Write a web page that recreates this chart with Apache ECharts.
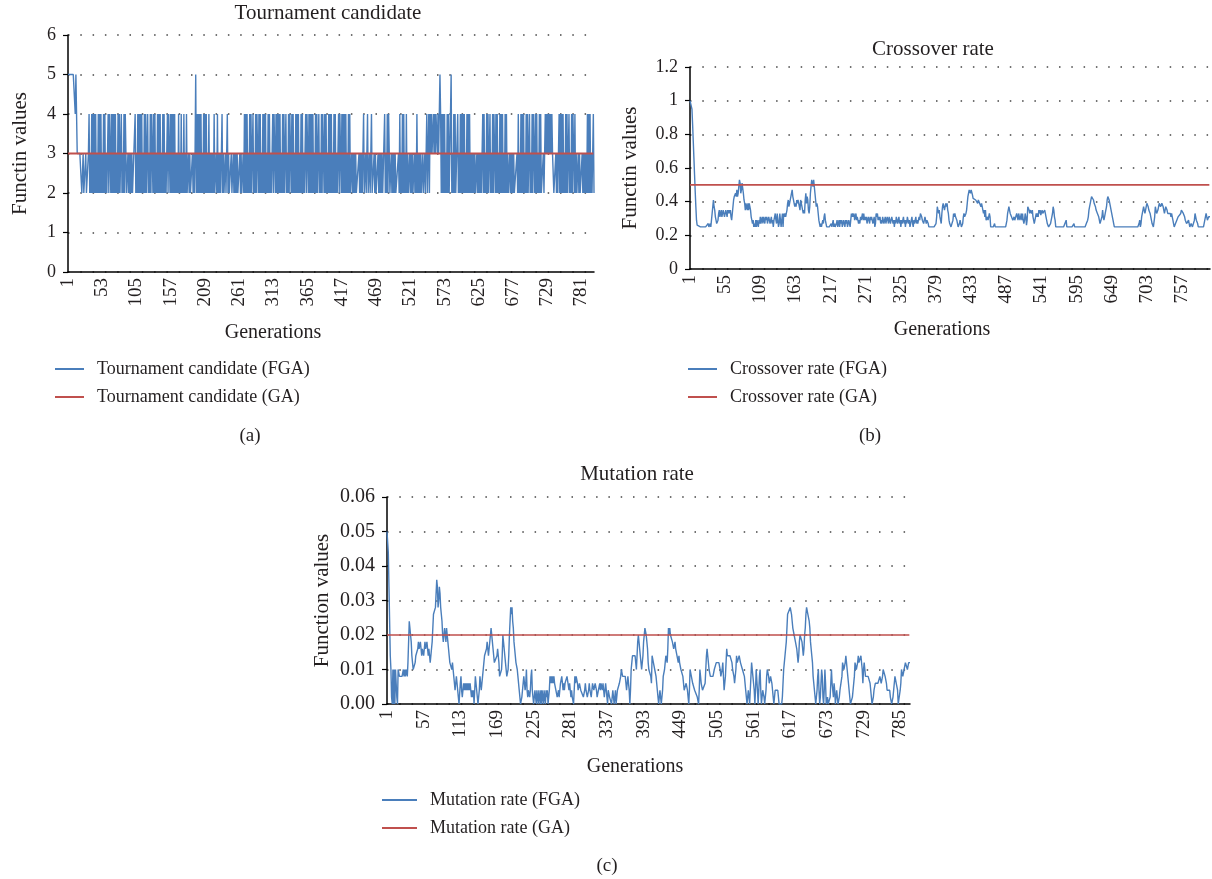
<!DOCTYPE html>
<html>
<head>
<meta charset="utf-8">
<script src="https://cdn.jsdelivr.net/npm/echarts@6/dist/echarts.min.js"></script>
<style>
  html, body { margin: 0; padding: 0; background: #fff; }
  #chart { width: 1212px; height: 879px; }
</style>
</head>
<body>
<div id="chart"></div>
<script>
// generations 1..800 on every x axis
const generations = Array.from({ length: 800 }, (_, i) => String(i + 1));

// (a) tournament candidate (FGA), one digit per generation
const tournamentRows = [
  '5555555555 5455333333 3223222322 2342324242',
  '4242324242 4232424232 2424324242 4242324242',
  '2423242432 2323232322 2242324242 4242324242',
  '2423242432 4242324242 4232424232 2424324242',
  '4242323242 3242324232 4223232223 2323524242',
  '4242324242 4232423232 3242232423 2322423223',
  '2242322232 2323232322 2323223242 4242324242',
  '2423242432 4242324242 4232424232 2424324242',
  '4242324242 2423242432 4242324242 4232424232',
  '2424324242 4242324242 2423242432 4242324242',
  '4232424232 2424324242 4242324242 2323232322',
  '2232323224 2232242232 2422232322 2323232322',
  '2423242432 2323232322 2232423242 4232423223',
  '2323223232 4232323223 2232242342 4343343434',
  '4343354242 4242324242 2452324242 2242324242',
  '4242324242 4232323232 2323232322 4242324242',
  '2423242432 4242324242 4232424232 2323232322',
  '2232423242 4242324242 2423242432 4242324242',
  '2232243434 3434343322 2323224242 4242324242',
  '2423242432 4232232322 2323232324 2424232242'
];
const tournamentFGA = tournamentRows.join('').replace(/\s/g, '').split('').map(Number);
const tournamentGA = new Array(800).fill(3);

// (b) crossover rate (FGA), in hundredths
const crossoverFGA = [
  100,100,100,95,86,76,66,56,46,37, 29,26,25,25,25,25,25,25,25,25,
  25,25,25,25,25,25,25,25,27,25, 25,27,25,29,33,37,41,37,35,31,
  29,27,27,29,33,35,31,33,35,31, 33,35,33,31,33,35,33,31,35,33,
  35,33,35,31,29,33,37,41,43,43, 45,43,47,43,45,49,53,51,45,47,
  51,51,45,41,39,35,39,37,35,39, 35,39,37,35,31,29,27,29,25,27,
  25,29,25,29,27,25,29,27,31,27, 29,31,27,31,29,27,31,29,31,27,
  29,31,29,27,29,31,27,29,25,29, 31,33,29,27,33,29,25,27,33,29,
  25,29,33,25,33,31,33,31,33,35, 39,41,37,39,41,43,45,47,43,41,
  39,37,39,37,41,39,41,41,37,35, 41,41,37,35,33,35,33,41,45,39,
  43,41,35,33,37,45,49,53,51,49, 53,49,45,41,37,39,37,33,29,27,
  25,27,25,25,29,27,31,33,29,27, 25,25,25,25,25,25,25,27,25,25,
  29,25,27,25,25,27,29,25,27,29, 25,29,27,29,25,27,29,27,25,29,
  27,29,25,27,29,27,25,29,33,31, 33,31,33,29,31,33,29,31,29,27,
  29,27,31,29,31,33,29,33,29,31, 29,31,27,29,31,29,27,31,29,31,
  29,27,29,31,25,27,33,31,33,29, 31,29,31,27,29,27,31,29,27,29,
  31,27,29,31,29,27,31,29,27,29, 31,29,27,29,25,29,27,31,29,27,
  29,31,27,29,25,29,27,29,31,27, 29,25,29,27,31,29,27,29,25,27,
  29,31,27,25,29,27,29,31,27,29, 27,29,31,29,33,33,31,29,29,27,
  29,31,29,27,29,29,27,25,25,25, 25,25,25,25,25,25,25,25,27,31,
  37,35,33,35,31,29,27,33,37,39, 37,35,37,39,37,39,35,33,29,27,
  27,25,25,25,29,33,31,33,31,31, 29,27,25,25,27,29,27,25,25,27,
  31,33,31,31,33,35,39,43,45,47, 47,45,47,46,44,42,43,41,43,41,
  40,41,39,41,41,39,39,37,39,37, 35,33,35,31,35,29,29,31,29,29,
  33,31,25,25,25,25,25,25,27,25, 25,25,25,25,25,25,25,25,25,25,
  25,25,25,25,25,25,27,29,33,35, 37,35,33,33,31,31,29,29,31,29,
  29,29,33,31,29,33,33,29,31,33, 29,33,29,27,29,33,31,26,29,37,
  37,35,33,35,35,33,35,31,29,27, 27,31,33,31,33,31,35,33,35,32,
  33,35,33,32,33,35,33,31,29,27, 27,25,25,25,27,29,31,33,37,35,
  31,29,25,25,25,25,25,25,25,25, 25,25,25,25,25,25,25,25,29,25,
  25,25,25,25,25,25,25,25,25,25, 27,25,25,25,25,25,25,25,25,25,
  25,25,25,25,25,25,25,25,25,27, 27,29,31,35,37,39,41,43,43,43,
  41,39,39,37,35,35,33,33,31,29, 27,27,27,31,35,31,29,31,33,33,
  37,41,43,43,41,39,37,35,35,31, 29,27,25,25,25,25,25,25,25,25,
  25,25,25,25,25,25,25,25,25,25, 25,25,25,25,25,25,25,25,25,25,
  25,25,25,25,25,25,25,25,25,25, 27,29,25,27,31,33,35,37,35,33,
  35,37,39,39,37,35,35,33,31,29, 27,27,25,25,31,37,35,33,33,35,
  37,39,39,37,37,39,39,37,35,33, 35,37,37,35,33,33,33,33,33,31,
  33,31,29,27,25,25,27,28,29,29, 31,32,31,31,33,35,35,35,33,33,
  31,29,29,27,26,27,29,27,25,25, 27,27,25,25,25,29,33,33,29,29,
  27,25,25,25,25,25,25,25,25,25, 25,25,25,33,33,29,29,31,31,31
];
const crossoverGA = new Array(800).fill(0.5);

// (c) mutation rate (FGA), in thousandths
const mutationFGA = [
  50,50,44,34,24,14,10,2,0,10, 0,10,0,10,6,2,0,10,10,8,
  8,8,8,8,8,10,8,10,8,10, 10,8,12,18,24,22,20,18,14,12,
  10,10,10,12,14,14,14,16,18,16, 16,18,16,14,16,16,14,16,18,16,
  16,18,16,14,16,14,12,12,16,18, 22,26,26,26,28,32,36,34,28,30,
  34,32,28,26,24,20,18,18,22,20, 18,22,20,18,16,14,12,12,12,10,
  12,10,8,6,4,6,8,6,4,2, 0,0,6,8,4,2,4,6,4,6,
  4,6,4,6,4,6,4,6,4,2, 4,2,4,0,0,8,6,4,2,0,
  0,4,8,6,4,6,8,10,12,14, 14,14,16,18,16,14,16,18,20,22,
  22,18,16,14,12,12,12,12,14,16, 16,12,8,8,8,10,14,20,18,16,
  14,12,10,8,8,10,14,20,24,28, 26,28,24,22,18,16,14,12,12,10,
  8,8,4,2,0,0,2,4,6,8, 6,4,6,10,4,2,4,4,2,4,
  8,10,4,2,0,2,4,2,0,4, 2,0,4,2,0,4,0,4,2,0,
  4,2,0,4,2,4,0,2,4,8, 6,8,6,8,6,8,6,6,4,4,
  2,2,4,2,4,6,6,8,6,4, 6,4,6,6,6,8,8,8,4,6,
  4,2,4,2,2,0,4,8,6,8, 8,6,4,4,6,6,4,4,4,4,
  2,2,4,6,4,4,2,2,4,6, 4,4,2,4,6,6,4,4,6,6,
  4,2,2,4,4,6,4,6,6,4, 6,4,2,2,6,6,2,0,4,4,
  2,2,2,0,2,4,2,0,2,4, 0,2,4,4,4,6,6,8,10,10,
  8,8,8,8,8,6,4,6,8,8, 4,0,4,10,12,14,14,14,14,14,
  12,10,14,18,20,18,18,14,12,10, 12,14,18,20,22,22,20,20,16,12,
  10,10,10,8,6,14,14,12,12,10, 10,8,6,4,2,0,2,4,2,0,
  0,4,8,8,10,12,14,14,12,16, 22,20,22,20,20,20,18,18,16,16,
  18,16,16,14,14,12,14,12,12,10, 10,10,8,6,4,4,4,6,6,4,
  2,0,4,10,10,8,8,6,6,6, 4,4,4,4,2,2,0,4,10,8,
  6,6,4,4,4,4,6,10,14,16, 14,12,10,10,8,8,8,8,8,8,
  10,10,10,12,12,12,12,12,12,10, 8,8,10,12,8,4,4,8,12,16,
  14,14,14,14,14,14,14,12,10,10, 8,6,6,10,14,12,12,12,14,14,
  12,12,12,10,10,10,8,8,4,2, 0,2,4,2,0,4,8,12,10,8,
  8,4,0,4,10,10,4,0,4,8, 10,4,0,2,4,4,2,0,2,4,
  8,10,10,8,6,6,8,8,6,4, 2,0,0,4,4,4,4,4,2,0,
  0,0,0,0,2,6,10,12,14,16, 18,22,26,26,26,26,28,28,26,24,
  22,22,20,20,18,18,16,14,12,14, 18,20,20,20,18,16,14,16,20,22,
  26,28,28,26,26,24,22,18,18,14, 12,8,6,4,2,0,0,4,8,10,
  4,0,2,6,10,8,2,0,4,10, 6,0,0,2,0,0,0,2,6,10,
  6,4,2,6,4,0,2,4,2,0, 0,2,4,4,4,8,12,12,10,10,
  12,14,12,10,8,6,4,2,0,0, 0,2,4,4,8,12,12,10,10,12,
  14,12,12,12,14,14,10,6,10,12, 12,8,8,8,8,8,8,8,6,4,
  2,0,0,2,4,4,6,6,6,6, 6,6,6,8,8,6,6,8,10,10,
  10,8,8,6,4,4,4,4,4,2, 2,0,0,2,4,6,8,8,6,6,
  4,0,0,0,4,6,10,10,8,8, 10,10,12,12,12,10,10,12,12,12
];
const mutationGA = new Array(800).fill(0.02);

const FONT = '"Liberation Serif", "DejaVu Serif", serif';
const TEXT = '#231f20';
const BLUE = '#4a7ebb';
const RED = '#c0504d';
const dotted = { color: '#444', width: 1.5, type: [1.5, 10.8] };

function xAxisFor(gridIndex, interval) {
  return {
    type: 'category',
    gridIndex: gridIndex,
    data: generations,
    boundaryGap: false,
    axisLine: { lineStyle: { color: '#000', width: 1.5 } },
    axisTick: { show: false },
    axisLabel: { interval: interval, rotate: 90, margin: 6, fontFamily: FONT, fontSize: 19, color: TEXT },
    splitLine: { show: false }
  };
}

function yAxisFor(gridIndex, max, interval, name, nameGap, labelSize, formatter) {
  return {
    type: 'value',
    gridIndex: gridIndex,
    min: 0,
    max: max,
    interval: interval,
    name: name,
    nameLocation: 'middle',
    nameGap: nameGap,
    nameTextStyle: { fontFamily: FONT, fontSize: 21, color: TEXT },
    axisLine: { show: true, lineStyle: { color: '#000', width: 1.5 } },
    axisTick: { show: true, length: 5, lineStyle: { color: '#000', width: 1.2 } },
    axisLabel: { margin: 12, fontFamily: FONT, fontSize: labelSize, color: TEXT, formatter: formatter },
    splitLine: { show: true, lineStyle: dotted }
  };
}

function lineSeries(name, idx, data, color, width) {
  return {
    name: name,
    type: 'line',
    xAxisIndex: idx,
    yAxisIndex: idx,
    data: data,
    showSymbol: false,
    symbol: 'none',
    color: color,
    lineStyle: { color: color, width: width },
    emphasis: { disabled: true }
  };
}

function legendFor(names, left, top, itemWidth) {
  return {
    data: names,
    orient: 'vertical',
    left: left,
    top: top,
    icon: 'rect',
    itemWidth: itemWidth,
    itemHeight: 2,
    itemGap: 8,
    selectedMode: false,
    padding: 0,
    textStyle: { fontFamily: FONT, fontSize: 18, color: TEXT, lineHeight: 20, padding: [0, 0, 0, 8] }
  };
}

function label(text, x, y, size) {
  return {
    type: 'text',
    x: x,
    y: y,
    style: { text: text, fontFamily: FONT, fontSize: size, fill: TEXT, align: 'center', verticalAlign: 'middle' }
  };
}

const titleStyle = { fontFamily: FONT, fontSize: 21, fontWeight: 'normal', color: TEXT };

const chart = echarts.init(document.getElementById('chart'));
chart.setOption({
  animation: false,
  backgroundColor: '#fff',
  title: [
    { text: 'Tournament candidate', left: 328, top: 3, textAlign: 'center', padding: 0, textStyle: titleStyle },
    { text: 'Crossover rate', left: 933, top: 39, textAlign: 'center', padding: 0, textStyle: titleStyle },
    { text: 'Mutation rate', left: 637, top: 464, textAlign: 'center', padding: 0, textStyle: titleStyle }
  ],
  legend: [
    legendFor(['Tournament candidate (FGA)', 'Tournament candidate (GA)'], 55, 359, 29),
    legendFor(['Crossover rate (FGA)', 'Crossover rate (GA)'], 688, 359, 29),
    legendFor(['Mutation rate (FGA)', 'Mutation rate (GA)'], 382, 790, 35)
  ],
  grid: [
    { left: 68, right: 618, top: 35, bottom: 607 },
    { left: 690, right: 2, top: 67, bottom: 610 },
    { left: 387, right: 302, top: 497, bottom: 175 }
  ],
  xAxis: [xAxisFor(0, 51), xAxisFor(1, 53), xAxisFor(2, 55)],
  yAxis: [
    yAxisFor(0, 6, 1, 'Functin values', 37, 18),
    yAxisFor(1, 1.2, 0.2, 'Functin values', 49, 18),
    yAxisFor(2, 0.06, 0.01, 'Function values', 54, 20, v => v.toFixed(2))
  ],
  series: [
    lineSeries('Tournament candidate (FGA)', 0, tournamentFGA, BLUE, 1.4),
    lineSeries('Tournament candidate (GA)', 0, tournamentGA, RED, 2),
    lineSeries('Crossover rate (FGA)', 1, crossoverFGA.map(v => v / 100), BLUE, 1.4),
    lineSeries('Crossover rate (GA)', 1, crossoverGA, RED, 1.6),
    lineSeries('Mutation rate (FGA)', 2, mutationFGA.map(v => v / 1000), BLUE, 1.4),
    lineSeries('Mutation rate (GA)', 2, mutationGA, RED, 1.6)
  ],
  graphic: [
    label('Generations', 273, 333, 20),
    label('Generations', 942, 330, 20),
    label('Generations', 635, 767, 20),
    label('(a)', 250, 436, 19),
    label('(b)', 870, 436, 19),
    label('(c)', 607, 866, 19)
  ]
});
</script>
</body>
</html>
